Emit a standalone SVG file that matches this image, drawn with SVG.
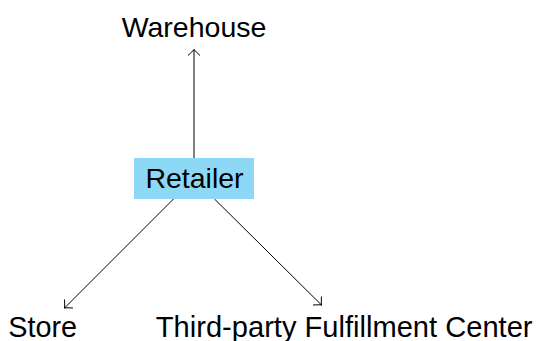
<svg xmlns="http://www.w3.org/2000/svg" width="536" height="341" viewBox="0 0 536 341">
<defs>
<style>
.lbl{font-family:"Liberation Sans",Arial,sans-serif;font-size:28.5px;fill:#000;text-anchor:middle}
.edge{stroke:#000;stroke-width:1;fill:none}
</style>
<marker id="arr" markerUnits="userSpaceOnUse" markerWidth="16" markerHeight="16" viewBox="-8 -8 16 16" refX="0" refY="0" orient="auto">
<path d="M -6 -6 Q -2 -1.5 0 0 Q -2 1.5 -6 6" stroke="#000" stroke-width="1" fill="none"/>
</marker>
</defs>
<rect width="536" height="341" fill="#fff"/>
<g id="connectors">
<line class="edge" x1="194" y1="158" x2="194" y2="49.5" marker-end="url(#arr)"/>
<line class="edge" x1="173.5" y1="199" x2="64.5" y2="308" marker-end="url(#arr)"/>
<line class="edge" x1="214.5" y1="199" x2="321.5" y2="305" marker-end="url(#arr)"/>
</g>
<g id="retailer">
<rect x="134" y="158" width="120" height="41" fill="#8dd8f5"/>
<text class="lbl" x="194.5" y="188.3">Retailer</text>
</g>
<g id="warehouse">
<text class="lbl" x="194" y="37.3">Warehouse</text>
</g>
<g id="store">
<text class="lbl" x="42.7" y="336.5" style="font-size:28.8px">Store</text>
</g>
<g id="fulfillment">
<text class="lbl" x="344.2" y="336.5" style="font-size:29.1px">Third-party Fulfillment Center</text>
</g>
</svg>
